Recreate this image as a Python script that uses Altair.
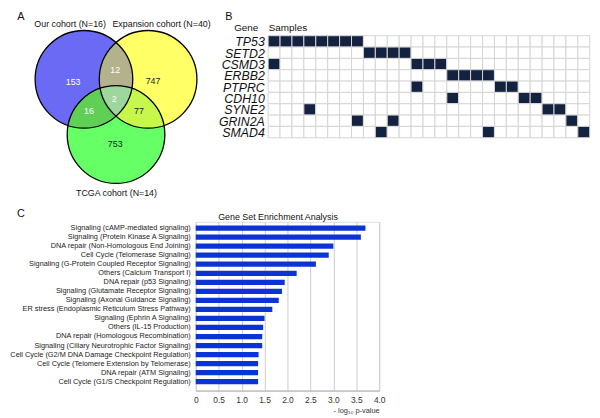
import math
import altair as alt
import pandas as pd

# ---------------- data ----------------
# Panel A (Venn)
venn_set_labels = ["Our cohort (N=16)", "Expansion cohort (N=40)", "TCGA cohort (N=14)"]
venn_regions = ["Our only", "Expansion only", "TCGA only",
                "Our & Expansion", "Our & TCGA", "Expansion & TCGA", "All three"]
venn_counts = [153, 747, 753, 12, 16, 77, 2]

# Panel B (mutation matrix)
genes = ["TP53", "SETD2", "CSMD3", "ERBB2", "PTPRC", "CDH10", "SYNE2", "GRIN2A", "SMAD4"]
n_samples = 27
mutated_samples = [
    [0, 1, 2, 3, 4, 5, 6, 7],
    [8, 9, 10, 11],
    [0, 12, 13, 14],
    [15, 16, 17, 18],
    [12, 19, 20],
    [15, 21, 22],
    [3, 23, 24],
    [7, 10, 25],
    [9, 18, 26],
]

# Panel C (gene set enrichment)
gsea_terms = [
    "Signaling (cAMP-mediated signaling)",
    "Signaling (Protein Kinase A Signaling)",
    "DNA repair (Non-Homologous End Joining)",
    "Cell Cycle (Telomerase Signaling)",
    "Signaling (G-Protein Coupled Receptor Signaling)",
    "Others (Calcium Transport I)",
    "DNA repair (p53 Signaling)",
    "Signaling (Glutamate Receptor Signaling)",
    "Signaling (Axonal Guidance Signaling)",
    "ER stress (Endoplasmic Reticulum Stress Pathway)",
    "Signaling (Ephrin A Signaling)",
    "Others (IL-15 Production)",
    "DNA repair (Homologous Recombination)",
    "Signaling (Ciliary Neurotrophic Factor Signaling)",
    "Cell Cycle (G2/M DNA Damage Checkpoint Regulation)",
    "Cell Cycle (Telomere Extension by Telomerase)",
    "DNA repair (ATM Signaling)",
    "Cell Cycle (G1/S Checkpoint Regulation)",
]
gsea_values = [3.70, 3.60, 3.00, 2.90, 2.62, 2.20, 1.94, 1.88, 1.81, 1.67,
               1.50, 1.47, 1.45, 1.45, 1.37, 1.36, 1.36, 1.36]

# ---------------- layout (reference-pixel frame) ----------------
OX, OY = 198.3, 222.0          # origin of the bar-chart plot area


def px(x):
    return x - OX


def py(y):
    return y - OY


FONT = "Liberation Sans"

# ---------------- Panel C : bars ----------------
df_gsea = pd.DataFrame({"term": gsea_terms, "value": gsea_values})
bars = alt.Chart(df_gsea).mark_bar(color="#0b34d6").encode(
    x=alt.X("value:Q",
            scale=alt.Scale(domain=[0, 4], nice=False, zero=True),
            axis=alt.Axis(values=[0, 0.5, 1, 1.5, 2, 2.5, 3, 3.5, 4],
                          labelExpr="datum.value == 0 ? '0' : format(datum.value, '.1f')",
                          grid=True, gridColor="#cccccc", gridWidth=1,
                          ticks=False, domainColor="#aaaaaa",
                          labelFontSize=8.5, labelColor="#333333", labelPadding=5,
                          labelFlush=False, labelOverlap=False,
                          title="- log\u2081\u2080 p-value", titleFontSize=7.5,
                          titleFontWeight="normal", titleAnchor="end",
                          titleColor="#333333", titlePadding=3)),
    y=alt.Y("term:N", sort=gsea_terms,
            scale=alt.Scale(paddingInner=0.42, paddingOuter=0.545, align=0.364),
            axis=alt.Axis(title=None, ticks=False, domain=False,
                          labelFontSize=7.45, labelColor="#222222",
                          labelPadding=5.5, labelLimit=400)),
)

# ---------------- Panel A : Venn ----------------
VR = 49.5
VCX, VCY = 117.5, 77.5
a, b = 0.657, 1.131
cB, cY, cG = (-a, 0.0), (a, 0.0), (0.0, b)


def inter(c1, c2):
    (x1, y1), (x2, y2) = c1, c2
    dx, dy = x2 - x1, y2 - y1
    d = math.hypot(dx, dy)
    h = math.sqrt(1 - (d / 2) ** 2)
    mx, my = (x1 + x2) / 2, (y1 + y2) / 2
    return (mx - h * dy / d, my + h * dx / d), (mx + h * dy / d, my - h * dx / d)


U, T = inter(cB, cY)
P, Q = inter(cB, cG)
S, R = inter(cY, cG)


def arc(c, p1, p2, cw=True, n=40):
    a1 = math.atan2(p1[1] - c[1], p1[0] - c[0])
    a2 = math.atan2(p2[1] - c[1], p2[0] - c[0])
    if cw:
        while a2 <= a1:
            a2 += 2 * math.pi
    else:
        while a2 >= a1:
            a2 -= 2 * math.pi
    return [(c[0] + math.cos(a1 + (a2 - a1) * i / n),
             c[1] + math.sin(a1 + (a2 - a1) * i / n)) for i in range(n + 1)]


def path(pts):
    return "M" + " L".join(f"{x:.4f} {y:.4f}" for x, y in pts) + " Z"


region_shapes = [
    path(arc(cB, T, P, False) + arc(cG, P, S) + arc(cY, S, T)),          # Our only
    path(arc(cY, T, R) + arc(cG, R, Q, False) + arc(cB, Q, T, False)),   # Expansion only
    path(arc(cG, P, R, False) + arc(cY, R, U) + arc(cB, U, P)),          # TCGA only
    path(arc(cB, T, Q) + arc(cG, Q, S, False) + arc(cY, S, T)),          # Our & Expansion
    path(arc(cG, P, S) + arc(cY, S, U, False) + arc(cB, U, P)),          # Our & TCGA
    path(arc(cG, Q, R) + arc(cY, R, U) + arc(cB, U, Q, False)),          # Expansion & TCGA
    path(arc(cG, S, Q) + arc(cB, Q, U) + arc(cY, U, S)),                 # All three
]
region_fill = ["#6a6af5", "#ffff66", "#66ff66", "#b4b28c", "#5fcf55", "#c8f74c", "#9ed69e"]
label_pos = [(-0.879, 0.05), (0.758, 0.036), (-0.016, 1.329), (-0.016, -0.186),
             (-0.556, 0.657), (0.468, 0.657), (-0.036, 0.408)]
label_col = ["white", "#222222", "#222222", "white", "white", "#222222", "white"]

df_regions = pd.DataFrame({
    "region": venn_regions, "count": venn_counts,
    "shape": region_shapes, "fill": region_fill,
    "ox": 0.0, "oy": 0.0,
    "lx": [p[0] for p in label_pos], "ly": [p[1] for p in label_pos],
    "tc": label_col,
})
df_circles = pd.DataFrame({"set": venn_set_labels,
                           "cx": [cB[0], cY[0], cG[0]], "cy": [cB[1], cY[1], cG[1]]})
df_setlab = pd.DataFrame({"set": venn_set_labels,
                          "lx": [-0.939, 0.933, 0.010], "ly": [-1.127, -1.127, 2.327]})

vx = alt.Scale(domain=[-1, 1], range=[px(VCX - VR), px(VCX + VR)], zero=False, nice=False)
vy = alt.Scale(domain=[-1, 1], range=[py(VCY - VR), py(VCY + VR)], zero=False, nice=False)
SZ = (2 * VR) ** 2

venn_fill = alt.Chart(df_regions).mark_point(filled=True, opacity=1, strokeWidth=0).encode(
    x=alt.X("ox:Q", scale=vx, axis=None),
    y=alt.Y("oy:Q", scale=vy, axis=None),
    shape=alt.Shape("shape:N", scale=None),
    fill=alt.Fill("fill:N", scale=None),
    size=alt.value(SZ),
)
venn_ring = alt.Chart(df_circles).mark_point(shape="circle", filled=False, opacity=1,
                                             stroke="black", strokeWidth=1.3).encode(
    x=alt.X("cx:Q", scale=vx, axis=None),
    y=alt.Y("cy:Q", scale=vy, axis=None),
    size=alt.value(SZ),
)
venn_counts_txt = alt.Chart(df_regions).mark_text(fontSize=9, font=FONT).encode(
    x=alt.X("lx:Q", scale=vx, axis=None),
    y=alt.Y("ly:Q", scale=vy, axis=None),
    text="count:Q",
    color=alt.Color("tc:N", scale=None),
)
venn_setlab = alt.Chart(df_setlab).mark_text(fontSize=9, font=FONT, color="#111111").encode(
    x=alt.X("lx:Q", scale=vx, axis=None),
    y=alt.Y("ly:Q", scale=vy, axis=None),
    text="set:N",
)
venn = alt.layer(venn_fill, venn_ring, venn_counts_txt, venn_setlab)

# ---------------- Panel B : mutation grid ----------------
rows = []
for g, muts in zip(genes, mutated_samples):
    for s in range(n_samples):
        rows.append({"gene": g, "sample": s,
                     "status": "mutated" if s in muts else "none"})
df_grid = pd.DataFrame(rows)

gx = alt.Scale(domain=list(range(n_samples)), range=[px(271.7), px(597.7)],
               paddingInner=0, paddingOuter=0)
gy = alt.Scale(domain=genes, range=[py(33.3), py(136.7)], paddingInner=0, paddingOuter=0)

cells = alt.Chart(df_grid).mark_rect(stroke="#d4d4d4", strokeWidth=1).encode(
    x=alt.X("sample:O", scale=gx, axis=None),
    y=alt.Y("gene:N", scale=gy, axis=None),
    color=alt.Color("status:N", scale=alt.Scale(domain=["mutated", "none"],
                                                range=["#13233f", "#ffffff"]), legend=None),
)
gene_txt = alt.Chart(pd.DataFrame({"gene": genes})).mark_text(
    align="right", baseline="middle", fontSize=12.5, fontStyle="italic", font=FONT,
    color="#111111", dy=1).encode(
    x=alt.value(px(268.3)),
    y=alt.Y("gene:N", scale=gy, axis=None),
    text="gene:N",
)
grid = alt.layer(cells, gene_txt)

# ---------------- annotations ----------------
annots = [
    ("A", 21, 17.0, 11, "center"),
    ("B", 232, 17.0, 11, "center"),
    ("C", 21, 216.7, 11, "center"),
    ("Gene", 249.5, 29.0, 10, "center"),
    ("Samples", 272.3, 29.0, 10, "left"),
    ("Gene Set Enrichment Analysis", 281.7, 220.3, 9, "center"),
]
annot_layers = []
for txt, x, y, fs, al in annots:
    annot_layers.append(
        alt.Chart(pd.DataFrame({"t": [txt]})).mark_text(
            align=al, baseline="alphabetic", fontSize=fs, font=FONT, color="#111111"
        ).encode(x=alt.value(px(x)), y=alt.value(py(y)), text="t:N")
    )

chart = alt.layer(bars, venn, grid, *annot_layers).resolve_scale(
    x="independent", y="independent"
).properties(
    width=186, height=171,
    autosize=alt.AutoSizeParams(type="none"),
    padding={"left": 190.3, "top": 214, "right": 215.7, "bottom": 25},
    background="white",
).configure_view(stroke=None).configure(font=FONT)

chart.save("out.html", embed_options={"renderer": "svg", "actions": False})
